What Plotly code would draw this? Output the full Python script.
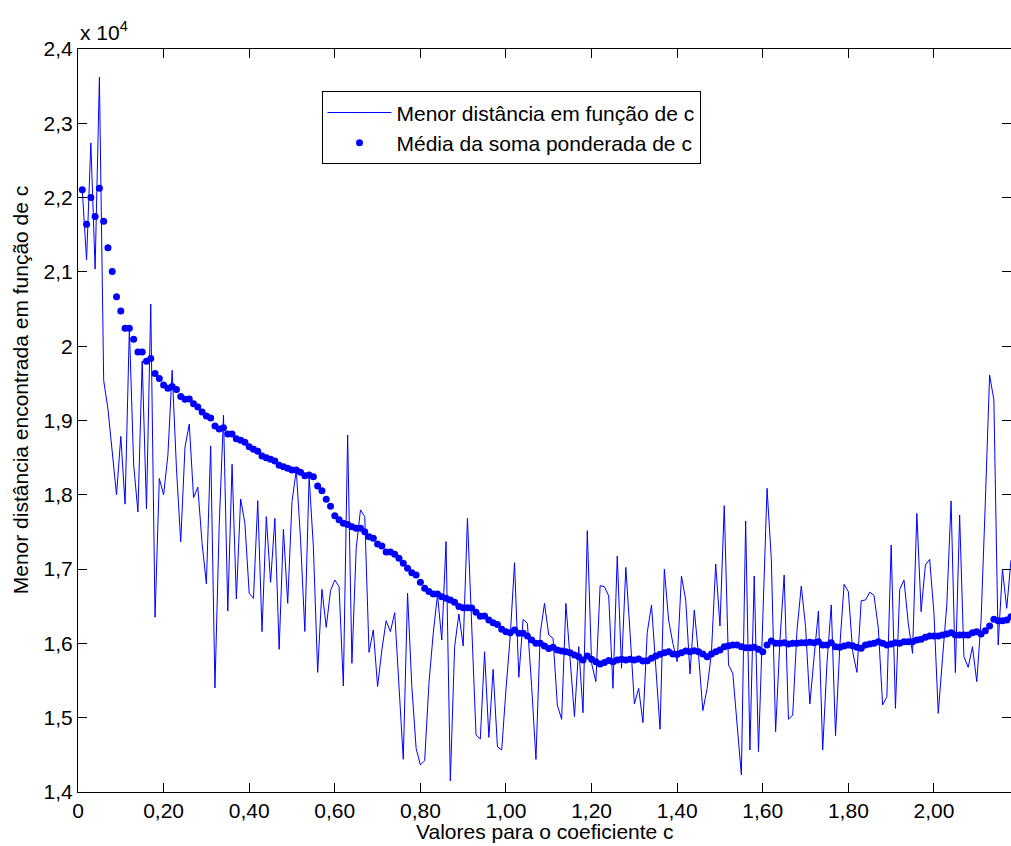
import numpy as np
import plotly.graph_objects as go

# Coefficient c (x values), step 0.01 from 0.01 to 2.18
c_coef = np.round(np.arange(1, 219) * 0.01, 2)

# Menor distância em função de c
menor_dist = [
    22104, 21159, 22736, 21038, 23621, 19538, 19154, 18577, 18000, 18786,
    17874, 20242, 18412, 17769, 19802, 17813, 20566, 16352, 18220, 18000,
    18533, 19676, 18357, 17368, 18643, 18951, 17962, 18104, 17341, 16802,
    18659, 15400, 17600, 19070, 16436, 18410, 16598, 17943, 17616, 16674,
    16607, 17921, 16158, 17706, 16822, 17683, 15920, 17535, 16539, 17908,
    18334, 17400, 16160, 18244, 17300, 15610, 16728, 16216, 16710, 16853,
    16764, 15427, 18805, 15732, 17280, 17796, 17706, 15880, 16181, 15418,
    15912, 16306, 16158, 16414, 15418, 14440, 16674, 15418, 14588, 14364,
    14422, 15463, 16136, 16652, 16046, 17370, 14149, 15957, 16396, 15966,
    17684, 16230, 14768, 14713, 15888, 14735, 15651, 14610, 14565, 15380,
    16100, 17086, 15543, 16323, 16270, 15417, 14439, 16135, 16539, 16113,
    16068, 15171, 14978, 16539, 15776, 15014, 15956, 15067, 17517, 15731,
    15485, 16777, 16763, 16640, 15395, 17176, 15665, 17024, 16136, 15185,
    15395, 14933, 16145, 16517, 15687, 14844, 17001, 16315, 16001, 15754,
    16907, 16584, 15588, 16450, 15844, 15095, 15395, 15866, 17069, 16234,
    17854, 15709, 15597, 14935, 14229, 17647, 14565, 16907, 14543, 16315,
    18087, 17131, 14812, 16023, 16920, 14978, 15036, 16180, 16772, 16225,
    15184, 15821, 16436, 14565, 15732, 16517, 14754, 15956, 16795, 16696,
    15888, 15610, 16575, 16584, 16690, 16645, 16203, 15171, 15283, 17324,
    15126, 16728, 16853, 16270, 15866, 17750, 16427, 17055, 17131, 16405,
    15059, 15800, 16517, 17917, 15606, 17728, 15822, 15678, 15956, 15485,
    16300, 17900, 19612, 19276, 15978, 16997, 16472, 17122,
]

# Média da soma ponderada de c
media_pond = [
    22104, 21643, 22000, 21747, 22126, 21681, 21324, 21005, 20665, 20473,
    20242, 20242, 20093, 19923, 19923, 19797, 19835, 19632, 19566, 19478,
    19434, 19456, 19418, 19324, 19286, 19291, 19225, 19181, 19115, 19060,
    19035, 18925, 18886, 18903, 18818, 18818, 18755, 18733, 18706, 18648,
    18612, 18585, 18522, 18500, 18477, 18455, 18397, 18379, 18356, 18334,
    18334, 18302, 18258, 18266, 18244, 18118, 18055, 17939, 17845, 17719,
    17665, 17616, 17600, 17571, 17549, 17549, 17504, 17437, 17415, 17338,
    17311, 17231, 17231, 17199, 17145, 17078, 17011, 16952, 16921, 16822,
    16742, 16697, 16665, 16665, 16629, 16607, 16585, 16553, 16495, 16481,
    16481, 16476, 16420, 16364, 16368, 16315, 16279, 16256, 16189, 16158,
    16144, 16180, 16135, 16135, 16099, 16045, 16001, 16001, 15965, 15933,
    15947, 15911, 15897, 15888, 15875, 15843, 15821, 15776, 15830, 15785,
    15754, 15722, 15742, 15770, 15754, 15777, 15786, 15777, 15786, 15777,
    15790, 15763, 15768, 15799, 15831, 15853, 15875, 15889, 15857, 15853,
    15875, 15898, 15889, 15902, 15889, 15857, 15822, 15857, 15889, 15911,
    15956, 15970, 15979, 15979, 15956, 15943, 15943, 15947, 15920, 15889,
    15978, 16032, 16001, 16001, 16010, 15992, 16001, 16001, 16010, 16010,
    16014, 16010, 16023, 15978, 15978, 16010, 15956, 15947, 15965, 15978,
    15969, 15947, 15934, 15978, 15992, 16001, 16023, 16001, 15978, 15992,
    16010, 16001, 16023, 16023, 16023, 16046, 16055, 16082, 16099, 16099,
    16099, 16113, 16127, 16144, 16113, 16113, 16113, 16113, 16144, 16158,
    16127, 16171, 16234, 16324, 16306, 16306, 16315, 16360,
]

x_tickvals = [0, 0.2, 0.4, 0.6, 0.8, 1.0, 1.2, 1.4, 1.6, 1.8, 2.0]
x_ticktext = ["0", "0,20", "0,40", "0,60", "0,80", "1,00", "1,20", "1,40", "1,60", "1,80", "2,00"]
y_tickvals = [14000, 15000, 16000, 17000, 18000, 19000, 20000, 21000, 22000, 23000, 24000]
y_ticktext = ["1,4", "1,5", "1,6", "1,7", "1,8", "1,9", "2", "2,1", "2,2", "2,3", "2,4"]

FONT = "Liberation Sans, Arial, Helvetica, sans-serif"
BLUE = "#0000FF"
FS = 21

fig = go.Figure()
fig.add_trace(go.Scatter(
    x=c_coef, y=menor_dist, mode="lines",
    line=dict(color=BLUE, width=1),
    name="Menor distância em função de c",
))
fig.add_trace(go.Scatter(
    x=c_coef, y=media_pond, mode="markers",
    marker=dict(color=BLUE, size=7, line=dict(width=0)),
    name="Média da soma ponderada de c",
))

axis_common = dict(
    showline=True, linecolor="black", linewidth=1, mirror="ticks",
    ticks="inside", ticklen=9, tickcolor="black", tickwidth=1,
    showgrid=False, zeroline=False, automargin=False,
    tickfont=dict(family=FONT, size=FS, color="black"),
)

fig.update_xaxes(range=[0, 2.18], tickvals=x_tickvals, ticktext=x_ticktext, **axis_common)
fig.update_yaxes(range=[14000, 24000], tickvals=y_tickvals, ticktext=y_ticktext, **axis_common)

# axis titles and exponent label
fig.add_annotation(
    text="Valores para o coeficiente c", xref="paper", yref="paper",
    x=0.5, y=-0.0525, xanchor="center", yanchor="middle", showarrow=False,
    font=dict(family=FONT, size=FS, color="black"),
)
fig.add_annotation(
    text="Menor distância encontrada em função de c", xref="paper", yref="paper",
    x=-0.0622, y=0.542, xanchor="center", yanchor="middle", showarrow=False,
    textangle=-90, font=dict(family=FONT, size=FS, color="black"),
)
fig.add_annotation(
    text="x 10<sup>4</sup>", xref="paper", yref="paper", x=0, y=1,
    xanchor="left", yanchor="bottom", showarrow=False, yshift=3,
    font=dict(family=FONT, size=FS, color="black"),
)

fig.update_layout(
    width=1011, height=846,
    margin=dict(l=78, r=0, t=49, b=54),
    paper_bgcolor="white", plot_bgcolor="white",
    font=dict(family=FONT, size=FS, color="black"),
    showlegend=True,
    legend=dict(
        x=0.261, y=0.943, xanchor="left", yanchor="top",
        bgcolor="white", bordercolor="black", borderwidth=1,
        font=dict(family=FONT, size=FS, color="black"),
        itemwidth=64, tracegroupgap=0,
    ),
)

# remove the default page margin so the figure sits at the window's top-left corner
fig.write_html(
    "out.html",
    config={"displayModeBar": False},
    post_script="document.body.style.margin='0';document.body.style.overflow='hidden';",
)
